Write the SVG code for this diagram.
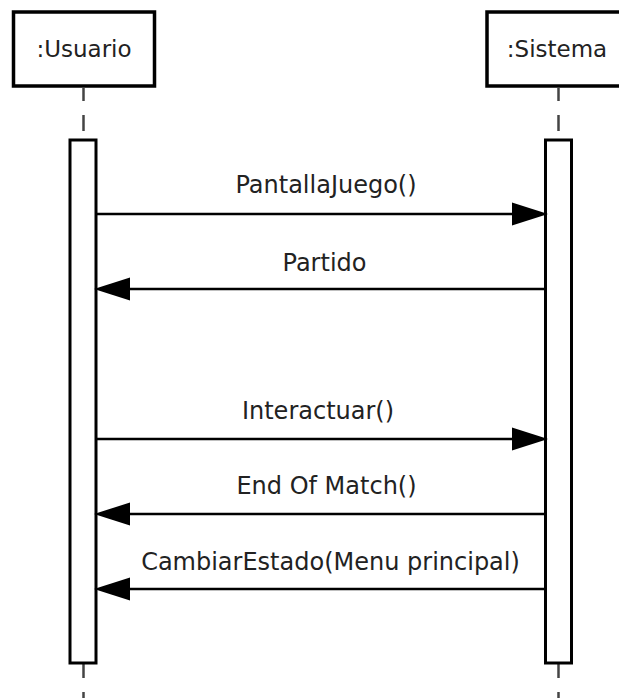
<svg xmlns="http://www.w3.org/2000/svg" width="619" height="698" viewBox="0 0 619 698">
  <style>
    .obj { fill: #ffffff; stroke: #000000; stroke-width: 3.5; }
    .act { fill: #ffffff; stroke: #000000; stroke-width: 3; }
    .life { stroke: #444444; stroke-width: 2.5; fill: none; }
    .msg { stroke: #000000; stroke-width: 2.5; fill: none; }
    .head { fill: #000000; stroke: none; }
    text { font-family: "DejaVu Sans", "Liberation Sans", sans-serif; fill: #222222; text-anchor: middle; }
    .name { font-size: 23px; }
    .label { font-size: 24px; }
  </style>
  <rect width="619" height="698" fill="#ffffff"/>

  <g id="usuario">
    <line class="life" x1="83.5" y1="88" x2="83.5" y2="101"/>
    <line class="life" x1="83.5" y1="115" x2="83.5" y2="131"/>
    <line class="life" x1="83.5" y1="664" x2="83.5" y2="678"/>
    <line class="life" x1="83.5" y1="692" x2="83.5" y2="698"/>
    <rect class="obj" x="13.5" y="12" width="141" height="74"/>
    <text class="name" x="84" y="57">:Usuario</text>
    <rect class="act" x="70" y="140" width="26" height="523"/>
  </g>

  <g id="sistema">
    <line class="life" x1="558.5" y1="88" x2="558.5" y2="101"/>
    <line class="life" x1="558.5" y1="115" x2="558.5" y2="131"/>
    <line class="life" x1="558.5" y1="664" x2="558.5" y2="678"/>
    <line class="life" x1="558.5" y1="692" x2="558.5" y2="698"/>
    <rect class="obj" x="487" y="12" width="141" height="74"/>
    <text class="name" x="557" y="57">:Sistema</text>
    <rect class="act" x="545.5" y="140" width="26" height="523"/>
  </g>

  <g id="connectors">
    <line class="msg" x1="96" y1="214" x2="514" y2="214"/>
    <polygon class="head" points="512,202.5 548,214 512,225.5"/>
    <text class="label" x="326" y="193">PantallaJuego()</text>

    <line class="msg" x1="545.5" y1="289" x2="128" y2="289"/>
    <polygon class="head" points="130,277.5 94,289 130,300.5"/>
    <text class="label" x="324.5" y="271">Partido</text>

    <line class="msg" x1="96" y1="439" x2="514" y2="439"/>
    <polygon class="head" points="512,427.5 548,439 512,450.5"/>
    <text class="label" x="318" y="419">Interactuar()</text>

    <line class="msg" x1="545.5" y1="514" x2="128" y2="514"/>
    <polygon class="head" points="130,502.5 94,514 130,525.5"/>
    <text class="label" x="326.5" y="494">End Of Match()</text>

    <line class="msg" x1="545.5" y1="589" x2="128" y2="589"/>
    <polygon class="head" points="130,577.5 94,589 130,600.5"/>
    <text class="label" x="330.5" y="570">CambiarEstado(Menu principal)</text>
  </g>
</svg>
